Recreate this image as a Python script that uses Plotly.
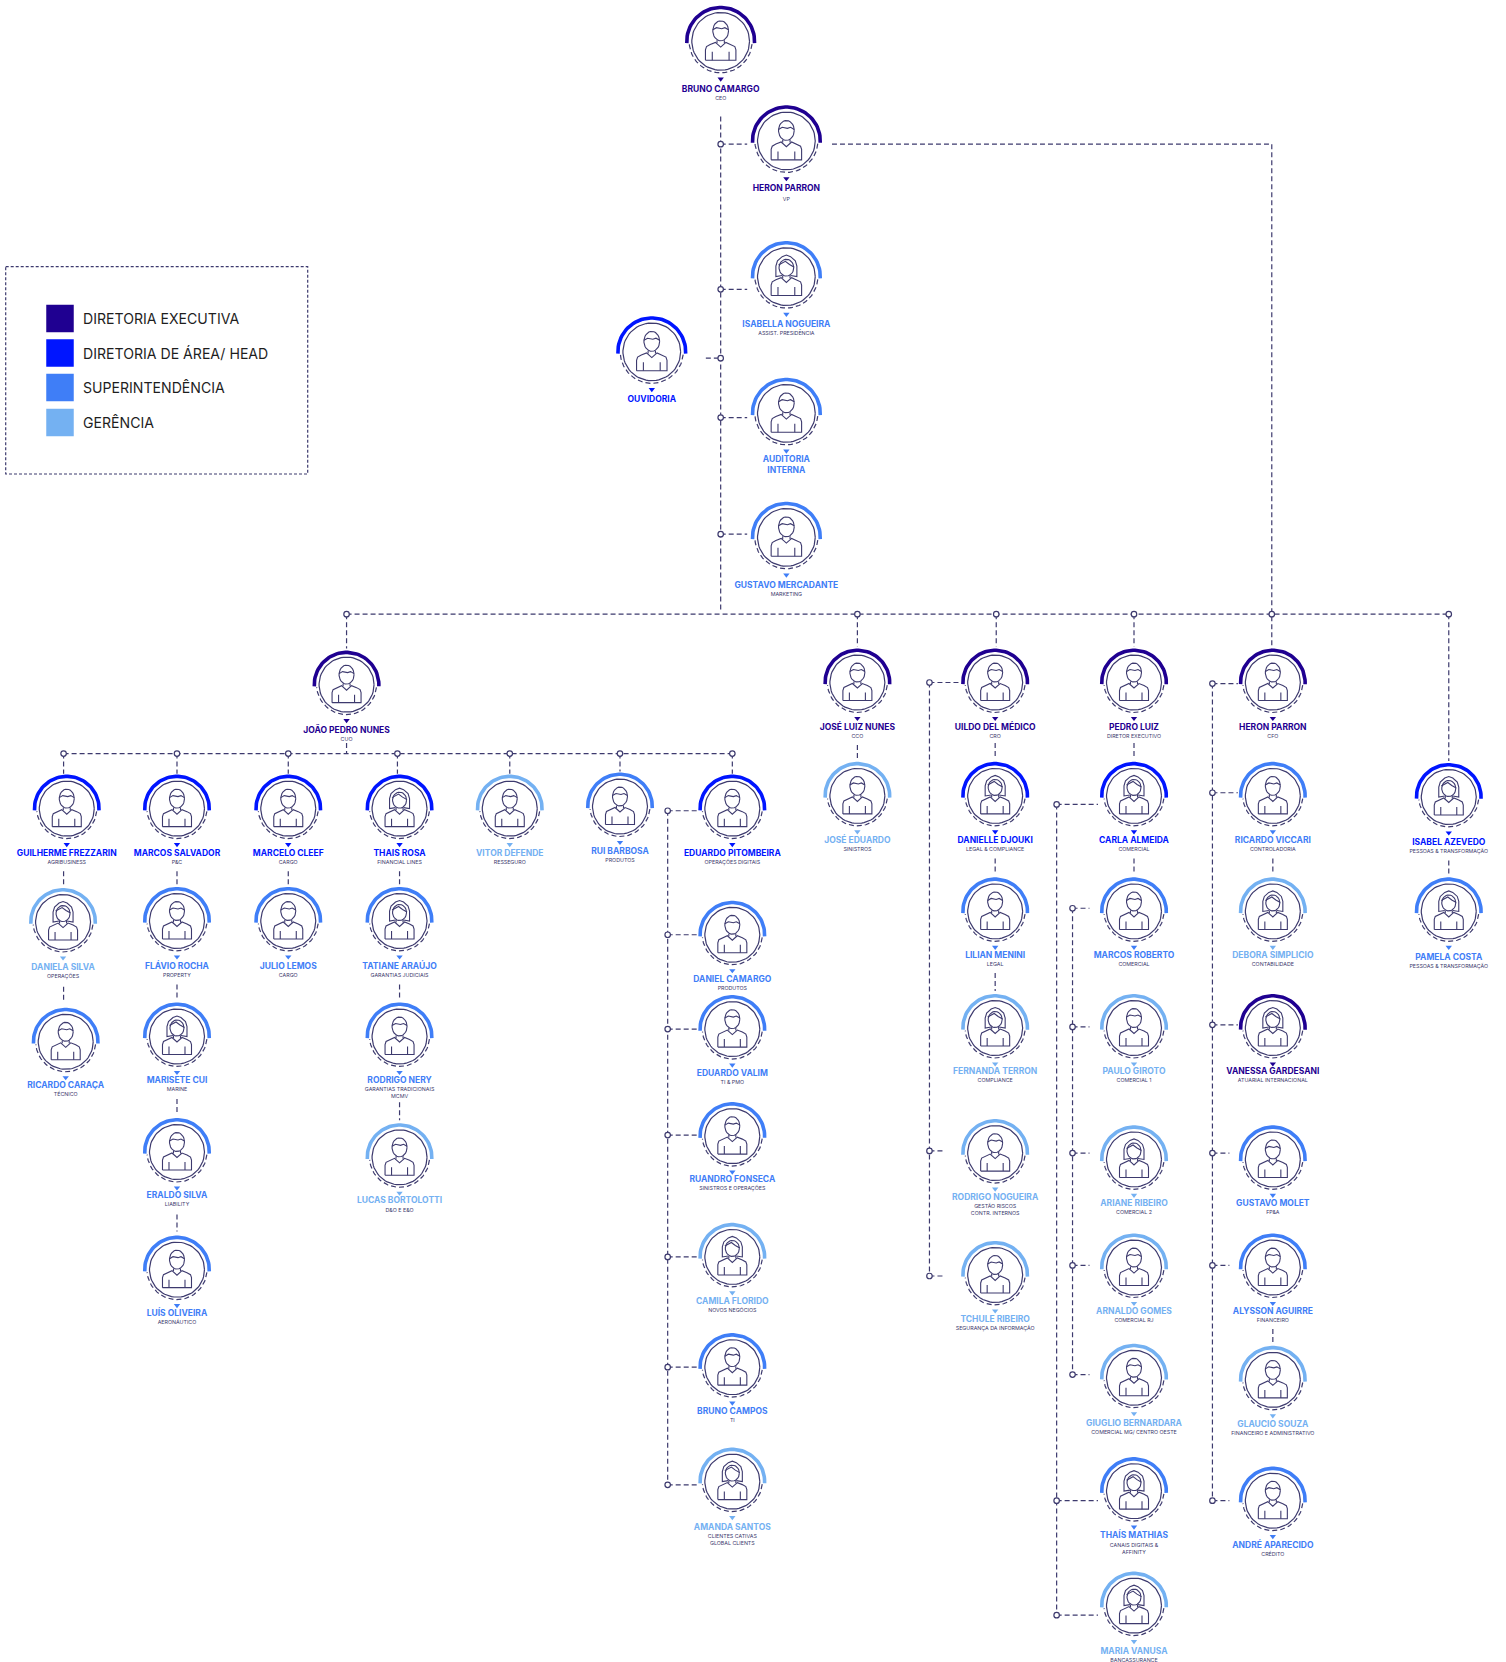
import numpy as np
import plotly.graph_objects as go

S = 1506 / 1421
W, H = 1506, 1662
COLORS = {"exec": "#1F0091", "head": "#0015FF", "super": "#3F7EF7", "ger": "#74B1F2"}
LINE = "#3D3A6E"

legend_labels = ["DIRETORIA EXECUTIVA", "DIRETORIA DE ÁREA/ HEAD", "SUPERINTENDÊNCIA", "GERÊNCIA"]
legend_levels = ["exec", "head", "super", "ger"]

# name, role, level, gender
names = ["BRUNO CAMARGO","HERON PARRON","ISABELLA NOGUEIRA","OUVIDORIA","AUDITORIA<br>INTERNA","GUSTAVO MERCADANTE",
 "JOÃO PEDRO NUNES","JOSÉ LUIZ NUNES","UILDO DEL MÉDICO","PEDRO LUIZ","HERON PARRON","ISABEL AZEVEDO","PAMELA COSTA",
 "GUILHERME FREZZARIN","MARCOS SALVADOR","MARCELO CLEEF","THAIS ROSA","VITOR DEFENDE","RUI BARBOSA","EDUARDO PITOMBEIRA",
 "DANIELA SILVA","RICARDO CARAÇA","FLÁVIO ROCHA","MARISETE CUI","ERALDO SILVA","LUÍS OLIVEIRA","JULIO LEMOS",
 "TATIANE ARAÚJO","RODRIGO NERY","LUCAS BORTOLOTTI",
 "DANIEL CAMARGO","EDUARDO VALIM","RUANDRO FONSECA","CAMILA FLORIDO","BRUNO CAMPOS","AMANDA SANTOS",
 "JOSÉ EDUARDO","DANIELLE DJOUKI","LILIAN MENINI","FERNANDA TERRON","RODRIGO NOGUEIRA","TCHULE RIBEIRO",
 "CARLA ALMEIDA","MARCOS ROBERTO","PAULO GIROTO","ARIANE RIBEIRO","ARNALDO GOMES","GIUGLIO BERNARDARA","THAÍS MATHIAS","MARIA VANUSA",
 "RICARDO VICCARI","DEBORA SIMPLICIO","VANESSA GARDESANI","GUSTAVO MOLET","ALYSSON AGUIRRE","GLAUCIO SOUZA","ANDRÉ APARECIDO"]
roles = ["CEO","VP","ASSIST. PRESIDÊNCIA","","","MARKETING",
 "CUO","CCO","CRO","DIRETOR EXECUTIVO","CFO","PESSOAS & TRANSFORMAÇÃO","PESSOAS & TRANSFORMAÇÃO",
 "AGRIBUSINESS","P&C","CARGO","FINANCIAL LINES","RESSEGURO","PRODUTOS","OPERAÇÕES DIGITAIS",
 "OPERAÇÕES","TÉCNICO","PROPERTY","MARINE","LIABILITY","AERONÁUTICO","CARGO",
 "GARANTIAS JUDICIAIS","GARANTIAS TRADICIONAIS<br>MCMV","D&O E E&O",
 "PRODUTOS","TI & PMO","SINISTROS E OPERAÇÕES","NOVOS NEGÓCIOS","TI","CLIENTES CATIVAS<br>GLOBAL CLIENTS",
 "SINISTROS","LEGAL & COMPLIANCE","LEGAL","COMPLIANCE","GESTÃO RISCOS<br>CONTR. INTERNOS","SEGURANÇA DA INFORMAÇÃO",
 "COMERCIAL","COMERCIAL","COMERCIAL 1","COMERCIAL 2","COMERCIAL RJ","COMERCIAL MG/ CENTRO OESTE","CANAIS DIGITAIS &<br>AFFINITY","BANCASSURANCE",
 "CONTROLADORIA","CONTABILIDADE","ATUARIAL INTERNACIONAL","FP&A","FINANCEIRO","FINANCEIRO E ADMINISTRATIVO","CRÉDITO"]
levels = ["exec","exec","super","head","super","super",
 "exec","exec","exec","exec","exec","head","super",
 "head","head","head","head","ger","super","head",
 "ger","super","super","super","super","super","super",
 "super","super","ger",
 "super","super","super","ger","super","ger",
 "ger","head","super","ger","ger","ger",
 "head","super","ger","ger","ger","ger","super","ger",
 "super","ger","exec","super","super","ger","super"]
female = {"ISABELLA NOGUEIRA","ISABEL AZEVEDO","PAMELA COSTA","THAIS ROSA","DANIELA SILVA","MARISETE CUI","TATIANE ARAÚJO",
 "CAMILA FLORIDO","AMANDA SANTOS","DANIELLE DJOUKI","FERNANDA TERRON","CARLA ALMEIDA","ARIANE RIBEIRO","THAÍS MATHIAS","MARIA VANUSA",
 "DEBORA SIMPLICIO","VANESSA GARDESANI"}

# layout table (page placement of each card, not data): circle x, circle y, name y, role y
cards = [(680,39,83,92),(742,133,177,187),(742,261,305,314),(615,332,376,0),(742,390,438,0),(742,507,551,560),
 (327,646,688,697),(809,644,685,694),(939,644,685,694),(1070,644,685,694),(1201,644,685,694),(1367,752,794,803),(1367,860,902,911),
 (63,763,804,813),(167,763,804,813),(272,763,804,813),(377,763,804,813),(481,763,804,813),(585,761,802,811),(691,763,804,813),
 (59.5,870,912,921),(62,983,1023,1032),(167,869,911,920),(167,978,1018,1027),(167,1087,1127,1136),(167,1198,1238,1247),(272,869,911,920),
 (377,869,911,920),(377,978,1018,1030.5),(377,1092,1132,1141),
 (691,882,923,932),(691,971,1012,1021),(691,1072,1112,1121),(691,1186,1227,1236),(691,1290,1331,1340),(691,1398,1440,1452),
 (809,751,792,801),(939,751,792,801),(939,860,900,909),(939,970,1010,1019),(939,1088,1129,1141),(939,1203,1244,1253),
 (1070,751,792,801),(1070,860,900,909),(1070,970,1010,1019),(1070,1094,1134,1143),(1070,1196,1236,1245),(1070,1300,1342,1351),(1070,1407,1448,1461),(1070,1515,1557,1566),
 (1201,751,792,801),(1201,860,900,909),(1201,970,1010,1019),(1201,1094,1134,1143),(1201,1196,1236,1245),(1201,1302,1343,1352),(1201,1416,1457,1466)]
BIG = 6  # the first six cards are drawn a little larger

# dashed connectors (x0,y0,x1,y1) in the same placement grid
conn = [(680,110,680,577),(680,136,705,136),(680,273,705,273),(666,338,680,338),(680,394,705,394),(680,504,705,504),
 (785,136,1200,136),(1200,136,1200,612),(327,579.5,1367,579.5),(327,579.5,327,612),(809,579.5,809,610),(940,579.5,940,610),
 (1070,579.5,1070,610),(1367,579.5,1367,718),(327,701,327,711),(60,711,692,711),
 (60,711,60,730),(167,711,167,730),(272,711,272,730),(375,711,375,730),(481,711,481,730),(585,711,585,728),(691,711,691,730),
 (60,822,60,837),(60,931,60,946),(167,822,167,836),(167,929,167,943),(167,1037,167,1052),(167,1146,167,1162),
 (272,822,272,836),(377,822,377,836),(377,929,377,943),(377,1040,377,1057),
 (630,765,630,1401),(630,765,658,765),(630,882,658,882),(630,971,658,971),(630,1071,658,1071),(630,1186,658,1186),(630,1290,658,1290),(630,1401,658,1401),
 (809,703,809,716),(939,701,939,716),(939,810,939,824),(939,918,939,935),
 (877,644,877,1204),(877,644,905,644),(877,1086,891,1086),(877,1204,891,1204),
 (1070,701,1070,716),(1070,810,1070,824),
 (997,759,997,1524),(997,759,1036,759),(997,1416,1036,1416),(997,1524,1036,1524),
 (1012,857,1012,1297),(1012,857,1028,857),(1012,969,1028,969),(1012,1088,1028,1088),(1012,1194,1028,1194),(1012,1297,1028,1297),
 (1144,645,1144,1416),(1144,645,1168,645),(1144,748,1168,748),(1144,967,1168,967),(1144,1088,1160,1088),(1144,1194,1160,1194),(1144,1416,1160,1416),
 (1201,810,1201,824),(1201,1254,1201,1267),(1367,812,1367,826)]
nodes = [(680,136),(680,273),(680,338),(680,394),(680,504),(327,579.5),(809,579.5),(940,579.5),(1070,579.5),(1200,579.5),(1367,579.5),
 (60,711),(167,711),(272,711),(375,711),(481,711),(585,711),(691,711),
 (630,765),(630,882),(630,971),(630,1071),(630,1186),(630,1290),(630,1401),
 (877,644),(877,1086),(877,1204),(997,759),(997,1416),(997,1524),
 (1012,857),(1012,969),(1012,1088),(1012,1194),(1012,1297),
 (1144,645),(1144,748),(1144,967),(1144,1088),(1144,1194),(1144,1416)]


def arc(cx, cy, r, a0, a1, n=48, ry=None):
    t = np.radians(np.linspace(a0, a1, n))
    ry = r if ry is None else ry
    return list(cx + r * np.cos(t)) + [None], list(cy + ry * np.sin(t)) + [None]


def curve(cx, cy, pts, k):
    return [cx + k * p[0] for p in pts] + [None], [cy + k * p[1] for p in pts] + [None]


BODY = [(-14.5,18),(-14.5,8),(-13.5,5),(-10,3),(-5,1),(0,5.5),(5,1),(10,3),(13.5,5),(14.5,8),(14.5,18),(-14.5,18)]
ARM_L = [(-8,10),(-8,18)]
ARM_R = [(8,10),(8,18)]
COLLAR = [(-3.5,-1),(-3.5,1.5)]
COLLAR2 = [(3.5,-1),(3.5,1.5)]
HAIR_M = [(-7.5,-11),(-4,-13),(1,-12),(4,-13),(7.5,-11)]
HAIR_F = [(-7.5,-11),(-1,-14.5),(3,-11.5),(7.5,-9)]
MANE = [(-4,-1),(-10,0),(-10,-10),(-8.5,-15),(-4,-19),(0,-20.5),(4,-19),(8.5,-15),(10,-10),(10,0),(4,-1)]

xs, ys = {k: [] for k in COLORS}, {k: [] for k in COLORS}
dx, dy = [], []
ix, iy = [], []
ax, ay = [], []
tx, ty, tc = [], [], []
for i, (n, l, c) in enumerate(zip(names, levels, cards)):
    k = 1.05 if i < BIG else 1.0
    cx, cy = c[0] * S, c[1] * S
    a = arc(cx, cy, 32.3 * k, 177, 363)
    xs[l] += a[0]; ys[l] += a[1]
    a = arc(cx, cy, 30 * k, 5, 175)
    dx += a[0]; dy += a[1]
    a = arc(cx, cy, 27.5 * k, 0, 360, 72)
    ix += a[0]; iy += a[1]
    parts = [BODY, ARM_L, ARM_R, COLLAR, COLLAR2]
    if n in female:
        parts += [MANE, HAIR_F]
        a = arc(cx, cy - 8.5 * k, 7 * k, 0, 360, 30, ry=8 * k)
    else:
        parts += [HAIR_M]
        a = arc(cx, cy - 10 * k, 7.5 * k, 0, 360, 30, ry=9.5 * k)
    ax += a[0]; ay += a[1]
    for p in parts:
        q = curve(cx, cy, p, k)
        ax += q[0]; ay += q[1]
    tx.append(cx); ty.append(cy + 35.8 * k); tc.append(COLORS[l])

fig = go.Figure()
cxs, cys = [], []
for c in conn:
    cxs += [c[0] * S, c[2] * S, None]
    cys += [c[1] * S, c[3] * S, None]
fig.add_trace(go.Scatter(x=cxs, y=cys, mode="lines", line=dict(color=LINE, width=1.2, dash="5px,3px"), hoverinfo="skip"))
fig.add_trace(go.Scatter(x=dx, y=dy, mode="lines", line=dict(color=LINE, width=1.2, dash="5px,3px"), hoverinfo="skip"))
fig.add_trace(go.Scatter(x=ix, y=iy, mode="lines", line=dict(color=LINE, width=1.2), hoverinfo="skip"))
fig.add_trace(go.Scatter(x=ax, y=ay, mode="lines", line=dict(color=LINE, width=1.1), hoverinfo="skip"))
fig.add_trace(go.Scatter(x=[n[0] * S for n in nodes], y=[n[1] * S for n in nodes], mode="markers",
    marker=dict(size=5.5, color="white", line=dict(color=LINE, width=1.2)), hoverinfo="skip"))
fig.add_trace(go.Scatter(x=tx, y=ty, mode="markers",
    marker=dict(symbol="triangle-down", size=5.5, color=tc, line=dict(width=0)), hoverinfo="skip"))
for k, col in COLORS.items():
    fig.add_trace(go.Scatter(x=xs[k], y=ys[k], mode="lines", line=dict(color=col, width=3.6), hoverinfo="skip"))
    idx = [i for i, l in enumerate(levels) if l == k]
    fig.add_trace(go.Scatter(x=[cards[i][0] * S for i in idx], y=[cards[i][2] * S + 1.6 for i in idx], mode="text",
        text=[names[i] for i in idx], textposition="middle center",
        textfont=dict(family="Inter", size=8.5, color=col, weight=700), hoverinfo="skip"))

ridx = [i for i, r in enumerate(roles) if r]
fig.add_trace(go.Scatter(x=[cards[i][0] * S for i in ridx], y=[cards[i][3] * S + 1 for i in ridx], mode="text",
    text=[roles[i] for i in ridx], textposition="middle center",
    textfont=dict(family="Inter", size=5.3, color=LINE), hoverinfo="skip"))

# legend box
fig.add_trace(go.Scatter(x=[5.7, 307.7, 307.7, 5.7, 5.7], y=[266.7, 266.7, 474, 474, 266.7], mode="lines",
    line=dict(color=LINE, width=1.2, dash="3px,2px"), hoverinfo="skip"))
ly = [318.5, 353, 387.5, 422.5]
fig.add_trace(go.Scatter(x=[60] * 4, y=ly, mode="markers",
    marker=dict(symbol="square", size=27.5, color=[COLORS[l] for l in legend_levels], line=dict(width=0)), hoverinfo="skip"))
fig.add_trace(go.Scatter(x=[83] * 4, y=[v + 2 for v in ly], mode="text", text=legend_labels, textposition="middle right",
    textfont=dict(family="Inter", size=14.1, color="#1E1E1E"), hoverinfo="skip"))

fig.update_layout(width=W, height=H, margin=dict(l=0, r=0, t=0, b=0), showlegend=False,
    plot_bgcolor="white", paper_bgcolor="white",
    xaxis=dict(range=[0, W], visible=False, fixedrange=True),
    yaxis=dict(range=[H, 0], visible=False, fixedrange=True))
fig.write_html("out.html", config={"displayModeBar": False},
    post_script="document.body.style.margin='0';document.body.style.overflow='hidden';")
